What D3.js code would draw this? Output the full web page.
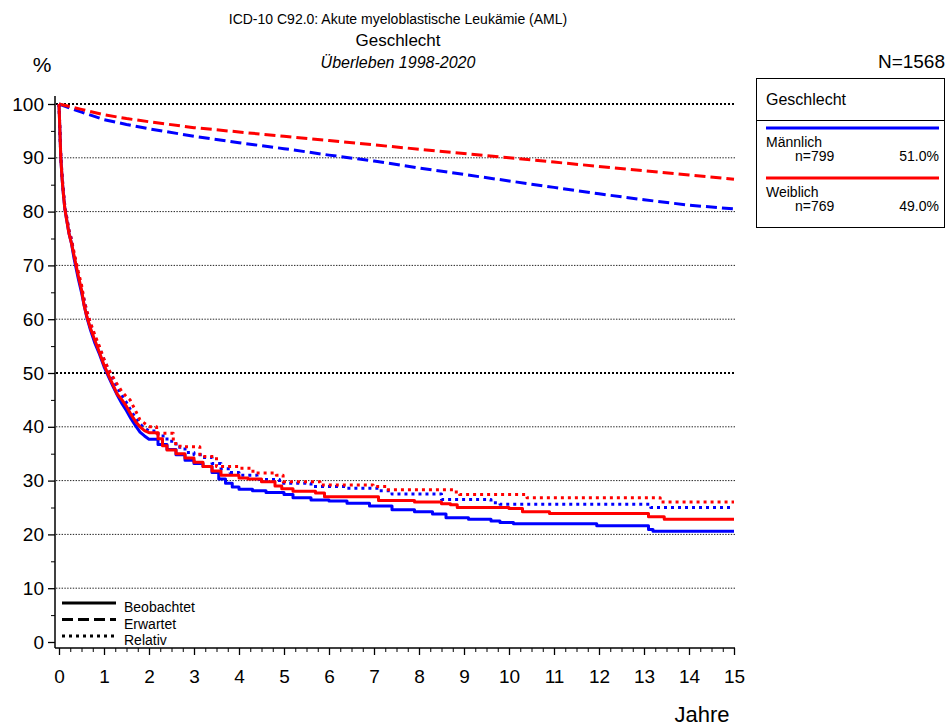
<!DOCTYPE html>
<html>
<head>
<meta charset="utf-8">
<script src="https://cdn.jsdelivr.net/npm/d3@7"></script>
<style>
body { margin: 0; background: #fff; }
svg { font-family: "Liberation Sans", Arial, sans-serif; }
.grid { stroke: #222; stroke-width: 1; stroke-dasharray: 1.4,1.4; }
.gridBold { stroke: #000; stroke-width: 2; stroke-dasharray: 2,2; }
</style>
</head>
<body>
<script>
//survival chart, ICD-10 C92.0 by sex

//pseudo global data arrays
var yTicks = [0, 10, 20, 30, 40, 50, 60, 70, 80, 90, 100];
var xTicks = [0, 1, 2, 3, 4, 5, 6, 7, 8, 9, 10, 11, 12, 13, 14, 15];
var groups = ["Männlich", "Weiblich"];
var groupN = ["n=799", "n=769"];
var groupPct = ["51.0%", "49.0%"];
var groupColors = ["#0000ff", "#ff0000"];

//observed survival (Beobachtet), time in years
var maleObsT = [0, 0.02, 0.04, 0.07, 0.1, 0.13, 0.17, 0.22, 0.28, 0.33, 0.38, 0.43, 0.5, 0.56, 0.62, 0.7, 0.8, 0.9, 1.0, 1.1, 1.2, 1.3, 1.4, 1.5, 1.6, 1.7, 1.8, 1.9, 2.0, 2.2, 2.4, 2.6, 2.8, 3.0, 3.2, 3.4, 3.55, 3.7, 3.85, 4.0, 4.3, 4.6, 5.0, 5.2, 5.6, 6.0, 6.4, 6.9, 7.4, 7.9, 8.3, 8.6, 9.1, 9.6, 9.8, 10.1, 11.95, 13.1, 13.2, 15];
var maleObsV = [100, 95, 90, 86, 83, 80.5, 78.5, 76, 74, 71.5, 69.5, 67.5, 65, 62.5, 60.3, 58, 55.5, 53.5, 51.2, 49.3, 47.5, 45.8, 44.3, 43, 41.5, 40.2, 39, 38.3, 37.7, 36.7, 35.8, 34.8, 33.8, 33.2, 32.6, 31.5, 30.3, 29.5, 28.8, 28.4, 28.1, 27.8, 27.4, 26.8, 26.4, 26.2, 25.8, 25.3, 24.6, 24.2, 23.8, 23.1, 22.8, 22.5, 22.2, 22.0, 21.6, 20.9, 20.6, 20.6];
var femaleObsT = [0, 0.02, 0.04, 0.07, 0.1, 0.13, 0.17, 0.22, 0.28, 0.33, 0.38, 0.43, 0.5, 0.56, 0.62, 0.7, 0.8, 0.9, 1.0, 1.1, 1.2, 1.3, 1.4, 1.5, 1.6, 1.7, 1.8, 1.9, 2.0, 2.2, 2.3, 2.4, 2.6, 2.8, 3.0, 3.2, 3.4, 3.6, 4.0, 4.2, 4.5, 4.8, 4.95, 5.2, 5.7, 5.9, 7.1, 7.9, 8.5, 8.7, 8.85, 10.0, 10.3, 10.9, 13.1, 13.45, 15];
var femaleObsV = [100, 95, 90, 86, 83, 80.5, 78.5, 76, 74, 72, 70, 68, 65.5, 62.5, 60.5, 58.3, 56, 53.8, 51.5, 49.6, 47.8, 46, 45, 43.8, 42.3, 41, 40, 39.3, 38.9, 37.8, 36.5, 35.7, 35.0, 34.2, 33.4, 32.6, 31.8, 31.0, 30.5, 30.3, 29.8, 29.0, 28.5, 28.0, 27.7, 27.0, 26.3, 26.0, 25.7, 25.5, 25.0, 24.8, 24.2, 23.9, 23.3, 22.8, 22.8];

//relative survival (Relativ)
var maleRelT = [0, 0.02, 0.04, 0.07, 0.1, 0.13, 0.17, 0.22, 0.28, 0.33, 0.38, 0.43, 0.5, 0.56, 0.62, 0.7, 0.8, 0.9, 1.0, 1.1, 1.2, 1.3, 1.4, 1.5, 1.6, 1.7, 1.8, 1.9, 2.0, 2.2, 2.4, 2.6, 2.8, 3.0, 3.2, 3.4, 3.6, 3.8, 4.0, 4.4, 4.9, 5.6, 6.4, 7.1, 7.4, 8.5, 9.6, 9.8, 13.15, 15];
var maleRelV = [100, 95.2, 90.3, 86.5, 83.5, 81, 79, 76.6, 74.7, 72.2, 70.3, 68.3, 65.9, 63.5, 61.3, 59.1, 56.6, 54.6, 52.5, 50.6, 48.9, 47.2, 45.8, 44.5, 43, 41.7, 40.5, 39.8, 39.2, 38.3, 37.3, 36.2, 35.2, 34.8, 34.3, 33.2, 32.2, 31.5, 31.0, 30.2, 29.5, 28.9, 28.6, 28.1, 27.5, 26.5, 25.9, 25.6, 25.0, 25.0];
var femaleRelT = [0, 0.02, 0.04, 0.07, 0.1, 0.13, 0.17, 0.22, 0.28, 0.33, 0.38, 0.43, 0.5, 0.56, 0.62, 0.7, 0.8, 0.9, 1.0, 1.1, 1.28, 1.4, 1.5, 1.58, 1.7, 1.8, 2.0, 2.17, 2.54, 2.69, 3.13, 3.5, 4.02, 4.31, 4.83, 4.98, 5.8, 6.98, 7.28, 8.76, 8.9, 10.4, 13.36, 15];
var femaleRelV = [100, 95.2, 90.3, 86.5, 83.5, 81, 79, 76.6, 74.7, 72.6, 70.7, 68.8, 66.4, 63.5, 61.5, 59.3, 57, 54.9, 52.6, 50.7, 48.1, 46.5, 45.6, 45, 43, 41.3, 40, 38.8, 36.9, 36.3, 34.5, 32.6, 32.3, 31.4, 31.0, 29.8, 29.2, 28.9, 28.3, 27.9, 27.4, 26.8, 26.0, 26.0];

//expected survival (Erwartet)
var expT = [0, 0.25, 0.5, 1, 1.5, 2, 3, 4, 5, 6, 7, 8, 9, 10, 11, 12, 13, 14, 15];
var maleExpV = [100, 99.2, 98.5, 97.1, 96.2, 95.4, 94.0, 92.8, 91.7, 90.5, 89.4, 88.1, 86.9, 85.7, 84.5, 83.3, 82.2, 81.2, 80.5];
var femaleExpV = [100, 99.5, 99.0, 98.0, 97.3, 96.7, 95.6, 94.8, 94.0, 93.2, 92.4, 91.6, 90.8, 90.0, 89.2, 88.4, 87.6, 86.8, 86.0];

var legendTypes = ["Beobachtet", "Erwartet", "Relativ"];
var dashes = ["none", "11,5", "3,4"];

//chart frame
var width = 949, height = 728;
var plotLeft = 59, plotRight = 734, plotTop = 104, plotBottom = 642;
var smoothUntil = 2.0;  //many events early on, curve drawn as a smooth line up to here

var x = d3.scaleLinear().domain([0, 15]).range([plotLeft, plotRight]);
var y = d3.scaleLinear().domain([0, 100]).range([plotBottom, plotTop]);

var svg = d3.select("body")
    .append("svg")
    .attr("width", width)
    .attr("height", height);

//titles
var titles = [
    {t: "ICD-10 C92.0: Akute myeloblastische Leukämie (AML)", y: 24, size: 14, italic: false},
    {t: "Geschlecht", y: 46, size: 17, italic: false},
    {t: "Überleben 1998-2020", y: 68, size: 16, italic: true}
];
svg.selectAll(".title")
    .data(titles)
    .enter()
    .append("text")
    .attr("x", 398)
    .attr("y", function(d){ return d.y; })
    .attr("text-anchor", "middle")
    .style("font-size", function(d){ return d.size + "px"; })
    .style("font-style", function(d){ return d.italic ? "italic" : "normal"; })
    .text(function(d){ return d.t; });

svg.append("text")
    .attr("x", 42).attr("y", 72)
    .attr("text-anchor", "middle")
    .style("font-size", "21px")
    .text("%");

svg.append("text")
    .attr("x", 945).attr("y", 68)
    .attr("text-anchor", "end")
    .style("font-size", "19px")
    .text("N=1568");

//gridlines
svg.selectAll(".gridline")
    .data(yTicks.filter(function(d){ return d > 0; }))
    .enter()
    .append("line")
    .attr("class", function(d){ return (d == 50 || d == 100) ? "gridBold" : "grid"; })
    .attr("x1", 56)
    .attr("x2", plotRight + 2)
    .attr("y1", function(d){ return y(d); })
    .attr("y2", function(d){ return y(d); });

//y axis with minor ticks every 5
var axisX = 55, axisY = 648;
var yAxisMinor = d3.axisLeft(y).tickValues(d3.range(5, 100, 10)).tickSize(4).tickFormat("");
svg.append("g")
    .attr("transform", "translate(" + axisX + ",0)")
    .call(yAxisMinor)
    .call(function(g){ g.select(".domain").remove(); });

var yAxis = d3.axisLeft(y).tickValues(yTicks).tickSize(7).tickPadding(4);
var yG = svg.append("g")
    .attr("transform", "translate(" + axisX + ",0)")
    .call(yAxis);
yG.select(".domain").remove();
yG.selectAll("text").style("font-size", "19px").attr("fill", "#000");
yG.selectAll("line").attr("stroke-width", 1.3);

svg.append("line")
    .attr("x1", axisX).attr("x2", axisX)
    .attr("y1", 96).attr("y2", axisY)
    .attr("stroke", "#000").attr("stroke-width", 1.5);

//x axis with quarter-year minor ticks
var xAxisMinor = d3.axisBottom(x).tickValues(d3.range(0, 15.01, 0.25)).tickSize(4).tickFormat("");
svg.append("g")
    .attr("transform", "translate(0," + axisY + ")")
    .call(xAxisMinor)
    .call(function(g){ g.select(".domain").remove(); });

var xAxis = d3.axisBottom(x).tickValues(xTicks).tickSize(7).tickPadding(15).tickFormat(d3.format("d"));
var xG = svg.append("g")
    .attr("transform", "translate(0," + axisY + ")")
    .call(xAxis);
xG.select(".domain").remove();
xG.selectAll("text").style("font-size", "19px").attr("fill", "#000");
xG.selectAll("line").attr("stroke-width", 1.3);

svg.append("line")
    .attr("x1", axisX).attr("x2", plotRight + 1)
    .attr("y1", axisY).attr("y2", axisY)
    .attr("stroke", "#000").attr("stroke-width", 1.5);

svg.append("text")
    .attr("x", 702).attr("y", 722)
    .attr("text-anchor", "middle")
    .style("font-size", "22px")
    .text("Jahre");

//line generators
function toPoints(ts, vs){
    return ts.map(function(t, i){ return [t, vs[i]]; });
}
var stepLine = d3.line()
    .x(function(d){ return x(d[0]); })
    .y(function(d){ return y(d[1]); })
    .curve(d3.curveStepAfter);
var smoothLine = d3.line()
    .x(function(d){ return x(d[0]); })
    .y(function(d){ return y(d[1]); });

//early part smooth, later part as km steps; both pieces in one path string
function kmPath(pts){
    var early = pts.filter(function(d){ return d[0] <= smoothUntil; });
    var late = pts.filter(function(d){ return d[0] >= early[early.length - 1][0]; });
    return smoothLine(early) + stepLine(late).replace(/^M/, "L");
}

var series = [
    {pts: toPoints(expT, maleExpV), km: false, dash: dashes[1], c: groupColors[0]},
    {pts: toPoints(expT, femaleExpV), km: false, dash: dashes[1], c: groupColors[1]},
    {pts: toPoints(maleRelT, maleRelV), km: true, dash: dashes[2], c: groupColors[0]},
    {pts: toPoints(femaleRelT, femaleRelV), km: true, dash: dashes[2], c: groupColors[1]},
    {pts: toPoints(maleObsT, maleObsV), km: true, dash: dashes[0], c: groupColors[0]},
    {pts: toPoints(femaleObsT, femaleObsV), km: true, dash: dashes[0], c: groupColors[1]}
];

svg.selectAll(".series")
    .data(series)
    .enter()
    .append("path")
    .attr("fill", "none")
    .attr("stroke", function(d){ return d.c; })
    .attr("stroke-width", 3)
    .attr("stroke-linejoin", "round")
    .attr("stroke-dasharray", function(d){ return d.dash; })
    .attr("d", function(d){ return d.km ? kmPath(d.pts) : smoothLine(d.pts); });

//line type legend, bottom left
var lineLegend = svg.selectAll(".lineLegend")
    .data(legendTypes)
    .enter()
    .append("g")
    .attr("transform", function(d, i){ return "translate(62," + (603 + i * 16.5) + ")"; });
lineLegend.append("line")
    .attr("x1", 0).attr("x2", 54)
    .attr("stroke", "#000").attr("stroke-width", 3)
    .attr("stroke-dasharray", function(d, i){ return dashes[i]; });
lineLegend.append("text")
    .attr("x", 62).attr("y", 9)
    .style("font-size", "14px")
    .text(function(d){ return d; });

//group legend box
svg.append("rect")
    .attr("x", 756.5).attr("y", 78.5)
    .attr("width", 188).attr("height", 149)
    .attr("fill", "none").attr("stroke", "#000");
svg.append("line")
    .attr("x1", 756.5).attr("x2", 944.5)
    .attr("y1", 120.5).attr("y2", 120.5)
    .attr("stroke", "#000");
svg.append("text")
    .attr("x", 766).attr("y", 105)
    .style("font-size", "16px")
    .text("Geschlecht");

var groupLegend = svg.selectAll(".groupLegend")
    .data(groups)
    .enter()
    .append("g")
    .attr("transform", function(d, i){ return "translate(0," + (128 + i * 50) + ")"; });
groupLegend.append("line")
    .attr("x1", 766).attr("x2", 939)
    .attr("stroke", function(d, i){ return groupColors[i]; })
    .attr("stroke-width", 3);
groupLegend.append("text")
    .attr("x", 766).attr("y", 19)
    .style("font-size", "14px")
    .text(function(d){ return d; });
groupLegend.append("text")
    .attr("x", 795).attr("y", 33)
    .style("font-size", "14px")
    .text(function(d, i){ return groupN[i]; });
groupLegend.append("text")
    .attr("x", 939).attr("y", 33)
    .attr("text-anchor", "end")
    .style("font-size", "14px")
    .text(function(d, i){ return groupPct[i]; });

</script>
</body>
</html>
